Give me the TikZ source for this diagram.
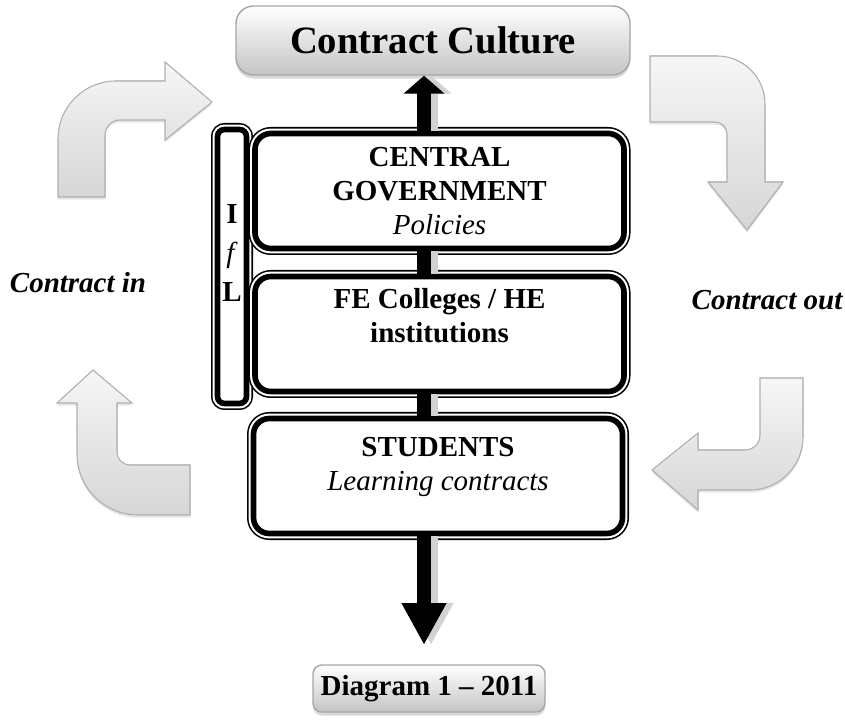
\documentclass[tikz,border=0pt]{standalone}
\usepackage{fontspec}
\setmainfont{Liberation Serif}
\usepackage{tikz}
\usetikzlibrary{arrows.meta, positioning, calc, shadows}
\definecolor{bendlight}{RGB}{246,246,246}
\definecolor{bendgray}{RGB}{214,214,214}
\definecolor{bendedge}{RGB}{175,175,175}
\definecolor{titlegray}{RGB}{196,196,196}

\tikzset{
  layerbox/.style={rectangle, rounded corners=9pt, fill=white, draw=black, line width=3.2pt,
    preaction={draw=black, line width=7.4pt}, preaction={draw=white, line width=5.6pt},
    minimum width=7.38cm, minimum height=2.3cm, align=center,
    font=\fontsize{16.5}{19.5}\selectfont},
  culturebox/.style={rectangle, rounded corners=10pt, top color=white, bottom color=titlegray,
    draw=gray!70, line width=0.8pt, drop shadow={opacity=0.3, shadow xshift=0pt, shadow yshift=-2pt},
    font=\bfseries\fontsize{22}{26}\selectfont},
  bendarrow/.style={top color=bendlight, bottom color=bendgray, draw=bendedge, line width=0.6pt,
    drop shadow={opacity=0.2, shadow xshift=0pt, shadow yshift=-1.5pt}},
  flowbar/.style={line width=8pt, black,
    preaction={draw=gray!35, line width=8pt, transform canvas={xshift=4pt}}},
  sidelabel/.style={font=\bfseries\itshape\fontsize{16.5}{19.5}\selectfont}
}

\begin{document}
\begin{tikzpicture}
  \useasboundingbox (0,0) rectangle (16.9,14.38);
  \coordinate (spine) at (8.48,0);

  % Bent arrows round the sides
  \filldraw[bendarrow] (1.16,10.44) -- (1.16,11.6) arc[start angle=180, end angle=90, radius=1.16]
    -- (3.3,12.76) -- (3.3,13.14) -- (4.24,12.34) -- (3.3,11.58) -- (3.3,11.98) -- (2.4,11.98)
    arc[start angle=90, end angle=180, radius=0.3] -- (2.1,10.44) -- cycle;
  \filldraw[bendarrow] (13.0,13.26) -- (14.34,13.26) arc[start angle=90, end angle=0, radius=0.96]
    -- (15.3,10.74) -- (15.66,10.74) -- (14.94,9.78) -- (14.16,10.74) -- (14.54,10.74) -- (14.54,11.7)
    arc[start angle=0, end angle=90, radius=0.24] -- (13.0,11.94) -- cycle;
  \filldraw[bendarrow] (3.8,5.08) -- (2.6,5.08) arc[start angle=270, end angle=180, radius=0.26]
    -- (2.34,6.32) -- (2.64,6.32) -- (1.86,6.98) -- (1.14,6.32) -- (1.54,6.32) -- (1.54,5.3)
    arc[start angle=180, end angle=270, radius=1.22] -- (3.8,4.08) -- cycle;
  \filldraw[bendarrow] (15.2,6.82) -- (15.2,5.68) arc[start angle=0, end angle=-90, radius=0.3]
    -- (13.96,5.38) -- (13.96,5.72) -- (13.04,4.98) -- (13.96,4.18) -- (13.96,4.58) -- (15.0,4.58)
    arc[start angle=-90, end angle=0, radius=1.06] -- (16.06,6.82) -- cycle;

  % Top and side labels
  \node[culturebox, minimum width=7.88cm, minimum height=1.38cm] (culture) at (8.66,13.57) {Contract Culture};
  \node[sidelabel] (cin) at (1.56,8.72) {Contract in};
  \node[sidelabel] (cout) at (15.34,8.38) {Contract out};

  % IfL frame
  \node[layerbox, rounded corners=4pt, minimum width=0.58cm, minimum height=5.48cm] (ifl) at (4.64,9.05) {};
  \node[font=\fontsize{16.5}{22}\selectfont, align=center] (ifltext) at (4.64,9.32) {\textbf{I}\\\textit{f}\\\textbf{L}};

  % Layers
  \node[layerbox] (gov) at (8.79,10.56) {\textbf{CENTRAL}\\\textbf{GOVERNMENT}\\\textit{Policies}};
  \node[layerbox, text depth=21pt] (fe) at (8.79,7.70) {\textbf{FE Colleges / HE}\\\textbf{institutions}};
  \node[layerbox, text depth=14pt] (stud) at (8.76,4.86) {\textbf{STUDENTS}\\\textit{Learning contracts}};

  % Spine
  \coordinate (downtip) at (8.48,1.48);
  \draw[flowbar, -{Triangle[width=0.8cm, length=0.36cm]}] (gov.north -| spine) -- (culture.south -| spine);
  \draw[flowbar] (gov.south -| spine) -- (fe.north -| spine);
  \draw[flowbar] (fe.south -| spine) -- (stud.north -| spine);
  \draw[flowbar, -{Triangle[width=0.84cm, length=0.84cm]}] (stud.south -| spine) -- (downtip);

  % Caption
  \node[culturebox, rounded corners=5pt, font=\bfseries\fontsize{16.5}{19.5}\selectfont,
    minimum width=4.64cm, minimum height=0.94cm] (caption) at (8.58,0.61) {Diagram 1 -- 2011};
\end{tikzpicture}
\end{document}
